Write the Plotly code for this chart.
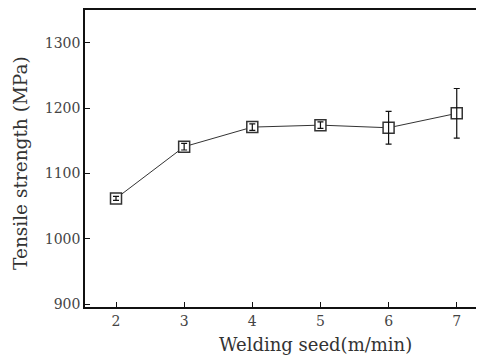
import plotly.graph_objects as go

speed = [2, 3, 4, 5, 6, 7]
strength = [1062, 1141, 1171, 1174, 1170, 1192]
err = [3, 5, 5, 5, 25, 38]
x_ticks = [2, 3, 4, 5, 6, 7]
y_ticks = [900, 1000, 1100, 1200, 1300]
x_title = "Welding seed(m/min)"
y_title = "Tensile strength (MPa)"

font_family = "DejaVu Serif, Liberation Serif, serif"

fig = go.Figure()
fig.add_trace(go.Scatter(
    x=speed, y=strength, mode="lines",
    line=dict(color="#333333", width=1),
    showlegend=False,
))
fig.add_trace(go.Scatter(
    x=speed, y=strength, mode="markers",
    marker=dict(size=11, symbol="square", color="white", line=dict(color="#333333", width=1.5)),
    showlegend=False,
))
fig.add_trace(go.Scatter(
    x=speed, y=strength, mode="markers",
    marker=dict(size=1, color="rgba(0,0,0,0)"),
    error_y=dict(type="data", array=err, color="#111111", thickness=1.2, width=3),
    showlegend=False,
))

W, H = 476, 350
fig.update_layout(
    width=W, height=H,
    margin=dict(l=77, r=0, t=0, b=51),
    paper_bgcolor="white", plot_bgcolor="white",
    font=dict(family=font_family, color="#444444", size=14),
    xaxis=dict(
        range=[1.545, 7.4], tickvals=x_ticks, ticks="inside", ticklen=5,
        tickcolor="#111111", showline=True, linecolor="#111111", linewidth=1.5,
        mirror=True, showgrid=False, zeroline=False,
        tickfont=dict(size=14),
    ),
    yaxis=dict(
        range=[896, 1350], tickvals=y_ticks, ticks="inside", ticklen=5,
        tickcolor="#111111", showline=True, linecolor="#111111", linewidth=1.5,
        showgrid=False, zeroline=False,
        tickfont=dict(size=14),
    ),
    annotations=[
        dict(text=x_title, xref="paper", yref="paper",
             x=(315 - 8 - 77) / (W - 77), y=-(345 - 8 - 299) / 299,
             xanchor="center", yanchor="middle", showarrow=False,
             font=dict(size=18, color="#333333")),
        dict(text=y_title, xref="paper", yref="paper", textangle=-90,
             x=-(85 - 21) / (W - 77), y=(307 - 162) / 299,
             xanchor="center", yanchor="middle", showarrow=False,
             font=dict(size=18.5, color="#333333")),
    ],
)

fig.write_html("out.html")
